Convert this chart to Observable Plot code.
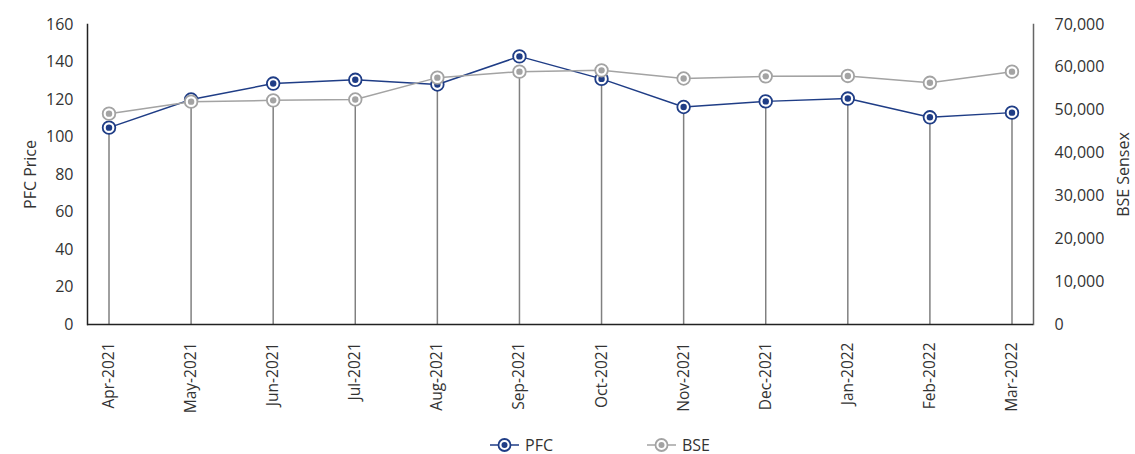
<!DOCTYPE html>
<html>
<head>
<meta charset="utf-8">
<script src="https://cdn.jsdelivr.net/npm/d3@7"></script>
<script src="https://cdn.jsdelivr.net/npm/@observablehq/plot@0.6"></script>
<style>
  html, body { margin: 0; padding: 0; background: #fff; }
  body { width: 1135px; height: 454px; overflow: hidden; font-family: "Open Sans", sans-serif; }
  #chart svg { display: block; }
  #legend { display: flex; justify-content: flex-start; gap: 94px; height: 50px; align-items: center; font-size: 16px; color: #333; padding-left: 490px; box-sizing: border-box; }
  .item { display: flex; align-items: center; gap: 6px; }
</style>
</head>
<body>
<div id="chart"></div>
<div id="legend"></div>
<script>
const months = ["Apr-2021","May-2021","Jun-2021","Jul-2021","Aug-2021","Sep-2021","Oct-2021","Nov-2021","Dec-2021","Jan-2022","Feb-2022","Mar-2022"];
const pfc = [105, 120, 128.5, 130.5, 128, 143, 131, 116, 119, 120.5, 110.5, 113];
const bse = [49200, 52000, 52300, 52500, 57600, 59000, 59300, 57400, 57900, 58000, 56400, 59000];
const pfcTicks = [0, 20, 40, 60, 80, 100, 120, 140, 160];
const bseTicks = [0, 10000, 20000, 30000, 40000, 50000, 60000, 70000];
const seriesNames = ["PFC", "BSE"];
const axisTitles = ["PFC Price", "BSE Sensex"];

const pfcColor = "#1f3d86";
const bseColor = "#a3a3a3";
const k = 160 / 70000;

const data = months.map((m, i) => ({ month: m, pfc: pfc[i], bse: bse[i], bseScaled: bse[i] * k }));

const chart = Plot.plot({
  width: 1135,
  height: 420,
  marginLeft: 87,
  marginRight: 102,
  marginTop: 24,
  marginBottom: 96,
  style: { fontFamily: "Open Sans", color: "#333", background: "#fff" },
  x: { type: "point", domain: months, padding: 0.262, round: false },
  y: { domain: [0, 160] },
  marks: [
    Plot.ruleX(data, { x: "month", y1: 0, y2: d => Math.min(d.pfc, d.bseScaled), stroke: "#808080", strokeWidth: 1.5 }),
    Plot.axisX({ tickRotate: -90, tickSize: 0, tickPadding: 18, fontSize: 15.5, label: null, color: "#333" }),
    Plot.axisY({ anchor: "left", ticks: pfcTicks, tickSize: 0, tickPadding: 14, fontSize: 16, label: null, color: "#333" }),
    Plot.axisY({ anchor: "right", ticks: bseTicks.map(v => v * k), tickFormat: v => d3.format(",")(Math.round(v / k)), tickSize: 0, tickPadding: 21, fontSize: 16, label: null, color: "#333" }),
    Plot.text([axisTitles[0]], { frameAnchor: "left", dx: -57, rotate: -90, textAnchor: "middle", fontSize: 16, fill: "#333" }),
    Plot.text([axisTitles[1]], { frameAnchor: "right", dx: 90, rotate: -90, textAnchor: "middle", fontSize: 16, fill: "#333" }),
    Plot.frame({ anchor: "left", stroke: "#222", strokeWidth: 1.5 }),
    Plot.frame({ anchor: "right", stroke: "#666", strokeWidth: 1.5 }),
    Plot.ruleY([0], { stroke: "#222", strokeWidth: 1.5 }),
    Plot.line(data, { x: "month", y: "pfc", stroke: pfcColor, strokeWidth: 1.5 }),
    Plot.dot(data, { x: "month", y: "pfc", r: 6.3, fill: "#fff", stroke: pfcColor, strokeWidth: 1.8 }),
    Plot.dot(data, { x: "month", y: "pfc", r: 3.2, fill: pfcColor, stroke: "none" }),
    Plot.line(data, { x: "month", y: "bseScaled", stroke: bseColor, strokeWidth: 1.5 }),
    Plot.dot(data, { x: "month", y: "bseScaled", r: 6.3, fill: "#fff", stroke: bseColor, strokeWidth: 1.8 }),
    Plot.dot(data, { x: "month", y: "bseScaled", r: 3.2, fill: bseColor, stroke: "none" })
  ]
});
document.getElementById("chart").appendChild(chart);

const legend = document.getElementById("legend");
[[seriesNames[0], pfcColor], [seriesNames[1], bseColor]].forEach(([name, c]) => {
  const item = document.createElement("div");
  item.className = "item";
  item.innerHTML = `<svg width="29" height="16"><line x1="0" x2="29" y1="8" y2="8" stroke="${c}" stroke-width="1.5"/><circle cx="14.5" cy="8" r="6" fill="#fff" stroke="${c}" stroke-width="1.8"/><circle cx="14.5" cy="8" r="3" fill="${c}"/></svg><span>${name}</span>`;
  legend.appendChild(item);
});
</script>
</body>
</html>
